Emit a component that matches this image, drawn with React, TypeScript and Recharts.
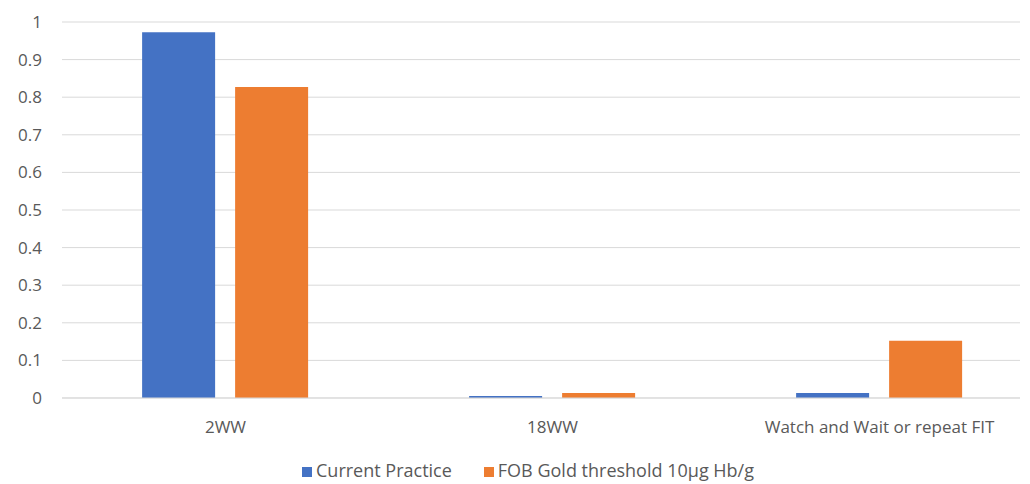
import { BarChart, Bar, XAxis, YAxis, CartesianGrid, Legend } from "recharts";

// Data
const categories = ["2WW", "18WW", "Watch and Wait or repeat FIT"];
const currentPractice = [0.973, 0.005, 0.013];
const fobGold = [0.827, 0.013, 0.152];
const yTicks = [0, 0.1, 0.2, 0.3, 0.4, 0.5, 0.6, 0.7, 0.8, 0.9, 1];

const COLOR_BLUE = "#4472C4";
const COLOR_ORANGE = "#ED7D31";
const TEXT = "#595959";
const FONT = "'Open Sans', 'DejaVu Sans', sans-serif";

const chartData = categories.map((name, i) => ({
  name,
  current: currentPractice[i],
  fob: fobGold[i],
}));

export default function App() {
  return (
    <div style={{ background: "#fff" }}>
      <BarChart
        width={1014}
        height={476}
        data={chartData}
        margin={{ top: 14, right: 2, left: 0, bottom: 4 }}
        barCategoryGap="24.5%"
        barGap={20}
      >
        <CartesianGrid vertical={false} stroke="#D9D9D9" />
        <XAxis
          dataKey="name"
          axisLine={{ stroke: "#D9D9D9" }}
          tickLine={false}
          tickSize={0}
          tickMargin={23}
          height={62}
          padding={{ left: 0, right: -23 }}
          tick={{ fontSize: 17, fill: TEXT, fontFamily: FONT }}
          interval={0}
        />
        <YAxis
          width={54}
          domain={[0, 1]}
          ticks={yTicks}
          axisLine={false}
          tickLine={false}
          tickSize={0}
          tickMargin={20}
          tick={{ fontSize: 17, fill: TEXT, fontFamily: FONT }}
        />
        <Legend
          verticalAlign="bottom"
          iconType="square"
          iconSize={10}
          wrapperStyle={{ fontSize: 18, lineHeight: "20px", fontFamily: FONT, paddingLeft: 30 }}
          formatter={(value) => <span style={{ color: TEXT, marginRight: 22 }}>{value}</span>}
        />
        <Bar
          dataKey="current"
          name="Current Practice"
          fill={COLOR_BLUE}
          isAnimationActive={false}
        />
        <Bar
          dataKey="fob"
          name="FOB Gold threshold 10µg Hb/g"
          fill={COLOR_ORANGE}
          isAnimationActive={false}
        />
      </BarChart>
    </div>
  );
}
